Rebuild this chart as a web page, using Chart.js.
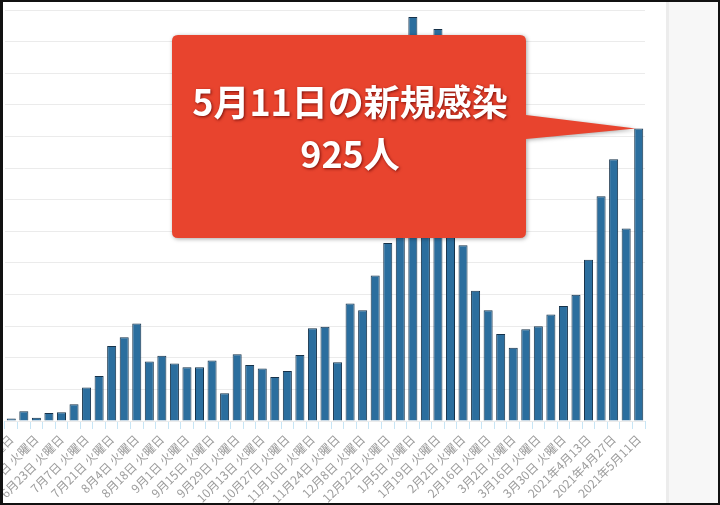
<!DOCTYPE html>
<html>
<head>
<meta charset="utf-8">
<script src="https://cdn.jsdelivr.net/npm/chart.js@4/dist/chart.umd.min.js"></script>
<style>
  html, body { margin: 0; padding: 0; background: #fff; }
  #wrap { position: relative; width: 720px; height: 505px; overflow: hidden; background: #fff; }
  #chartBox { position: absolute; left: 0; top: 0; width: 666px; height: 505px; }
  #side { position: absolute; left: 666px; top: 0; width: 54px; height: 505px; background: #f7f7f7; border-left: 3px solid #ececec; box-sizing: border-box; }
  #frame { position: absolute; left: 0; top: 0; width: 720px; height: 505px; box-sizing: border-box; border: 2px solid #111; border-left-width: 3px; pointer-events: none; }
</style>
</head>
<body>
<div id="wrap">
  <div id="chartBox"><canvas id="myChart"></canvas></div>
  <div id="side"></div>
  <div id="frame"></div>
</div>
<script>
// 毎週火曜日の新規感染者数
const weekLabels = [
  '5月26日 火曜日', '6月2日 火曜日', '6月9日 火曜日', '6月16日 火曜日', '6月23日 火曜日',
  '6月30日 火曜日', '7月7日 火曜日', '7月14日 火曜日', '7月21日 火曜日', '7月28日 火曜日',
  '8月4日 火曜日', '8月11日 火曜日', '8月18日 火曜日', '8月25日 火曜日', '9月1日 火曜日',
  '9月8日 火曜日', '9月15日 火曜日', '9月22日 火曜日', '9月29日 火曜日', '10月6日 火曜日',
  '10月13日 火曜日', '10月20日 火曜日', '10月27日 火曜日', '11月3日 火曜日', '11月10日 火曜日',
  '11月17日 火曜日', '11月24日 火曜日', '12月1日 火曜日', '12月8日 火曜日', '12月15日 火曜日',
  '12月22日 火曜日', '12月29日 火曜日', '1月5日 火曜日', '1月12日 火曜日', '1月19日 火曜日',
  '1月26日 火曜日', '2月2日 火曜日', '2月9日 火曜日', '2月16日 火曜日', '2月23日 火曜日',
  '3月2日 火曜日', '3月9日 火曜日', '3月16日 火曜日', '3月23日 火曜日', '3月30日 火曜日',
  '2021年4月6日', '2021年4月13日', '2021年4月20日', '2021年4月27日', '2021年5月4日',
  '2021年5月11日'
];
const newCases = [
  8, 31, 10, 25, 28, 53, 106, 142, 237, 265,
  308, 188, 206, 182, 170, 170, 191, 88, 211, 177,
  166, 139, 158, 209, 293, 298, 186, 372, 350, 460,
  563, 856, 1278, 970, 1240, 1026, 556, 412, 350, 275,
  232, 290, 300, 337, 364, 399, 510, 711, 828, 609,
  925
];
const yTicksMax = 1300;
const yTicksStep = 100;
const calloutDate = '5月11日';

/**
 * 吹き出し
 */
const calloutPlugin = {
  id: 'callout',
  afterDatasetsDraw(chart) {
    const ctx = chart.ctx;
    const last = newCases.length - 1;
    const tipX = chart.scales.x.getPixelForValue(last) - 3;
    const tipY = chart.scales.y.getPixelForValue(newCases[last]);
    const bx = 172, by = 35, bw = 354, bh = 203, r = 6;
    ctx.save();
    ctx.fillStyle = '#e8442e';
    ctx.shadowColor = 'rgba(0,0,0,0.35)';
    ctx.shadowBlur = 4;
    ctx.shadowOffsetX = 1;
    ctx.shadowOffsetY = 1;
    ctx.beginPath();
    ctx.moveTo(bx + r, by);
    ctx.lineTo(bx + bw - r, by);
    ctx.quadraticCurveTo(bx + bw, by, bx + bw, by + r);
    ctx.lineTo(bx + bw, by + 80);
    ctx.lineTo(tipX, tipY);
    ctx.lineTo(bx + bw, by + 104);
    ctx.lineTo(bx + bw, by + bh - r);
    ctx.quadraticCurveTo(bx + bw, by + bh, bx + bw - r, by + bh);
    ctx.lineTo(bx + r, by + bh);
    ctx.quadraticCurveTo(bx, by + bh, bx, by + bh - r);
    ctx.lineTo(bx, by + r);
    ctx.quadraticCurveTo(bx, by, bx + r, by);
    ctx.closePath();
    ctx.fill();

    ctx.fillStyle = '#ffffff';
    ctx.textAlign = 'center';
    ctx.textBaseline = 'middle';
    ctx.shadowColor = 'rgba(90,0,0,0.75)';
    ctx.shadowBlur = 3;
    ctx.shadowOffsetX = 1;
    ctx.shadowOffsetY = 1;
    ctx.font = 'bold 36px "Noto Sans CJK JP"';
    const cx = bx + bw / 2 + 1;
    ctx.fillText(calloutDate + 'の新規感染', cx, by + 67);
    ctx.fillText(newCases[last] + '人', cx, by + 119);
    ctx.restore();
  }
};

function add_bar_graph() {
  Chart.defaults.font.family = '"Noto Sans CJK JP", "Noto Sans", sans-serif';
  new Chart(
    document.getElementById('myChart').getContext('2d'),
    {
      type: 'bar',
      data: {
        labels: weekLabels,
        datasets: [{
          data: newCases,
          backgroundColor: '#2b6e9e',
          borderColor: '#16324a',
          borderWidth: 1
        }]
      },
      plugins: [calloutPlugin],
      options: {
        responsive: true,
        maintainAspectRatio: false,
        animation: false,
        layout: { padding: { left: 5, top: 10, right: 21, bottom: 0 } },
        plugins: {
          legend: { display: false },
          tooltip: { enabled: false }
        },
        scales: {
          x: {
            border: { display: false },
            grid: {
              drawOnChartArea: false,
              color: 'rgba(185,222,242,0.8)',
              tickLength: 8
            },
            ticks: {
              autoSkip: false,
              minRotation: 45,
              maxRotation: 45,
              color: '#9c9c9c',
              font: { size: 12 },
              callback: function(value, index) {
                return index % 2 === 0 ? this.getLabelForValue(value) : '';
              }
            },
            afterFit: function(axis) {
              axis.height = 84;
              axis.paddingLeft = 0;
              axis.paddingRight = 0;
            }
          },
          y: {
            min: 0,
            max: yTicksMax,
            border: { display: false },
            grid: { color: '#ebebeb', drawTicks: false },
            ticks: { display: false, stepSize: yTicksStep },
            afterFit: function(axis) {
              axis.width = 0;
              axis.paddingTop = 0;
              axis.paddingBottom = 0;
            }
          }
        }
      }
    }
  );
}

add_bar_graph();
</script>
</body>
</html>
